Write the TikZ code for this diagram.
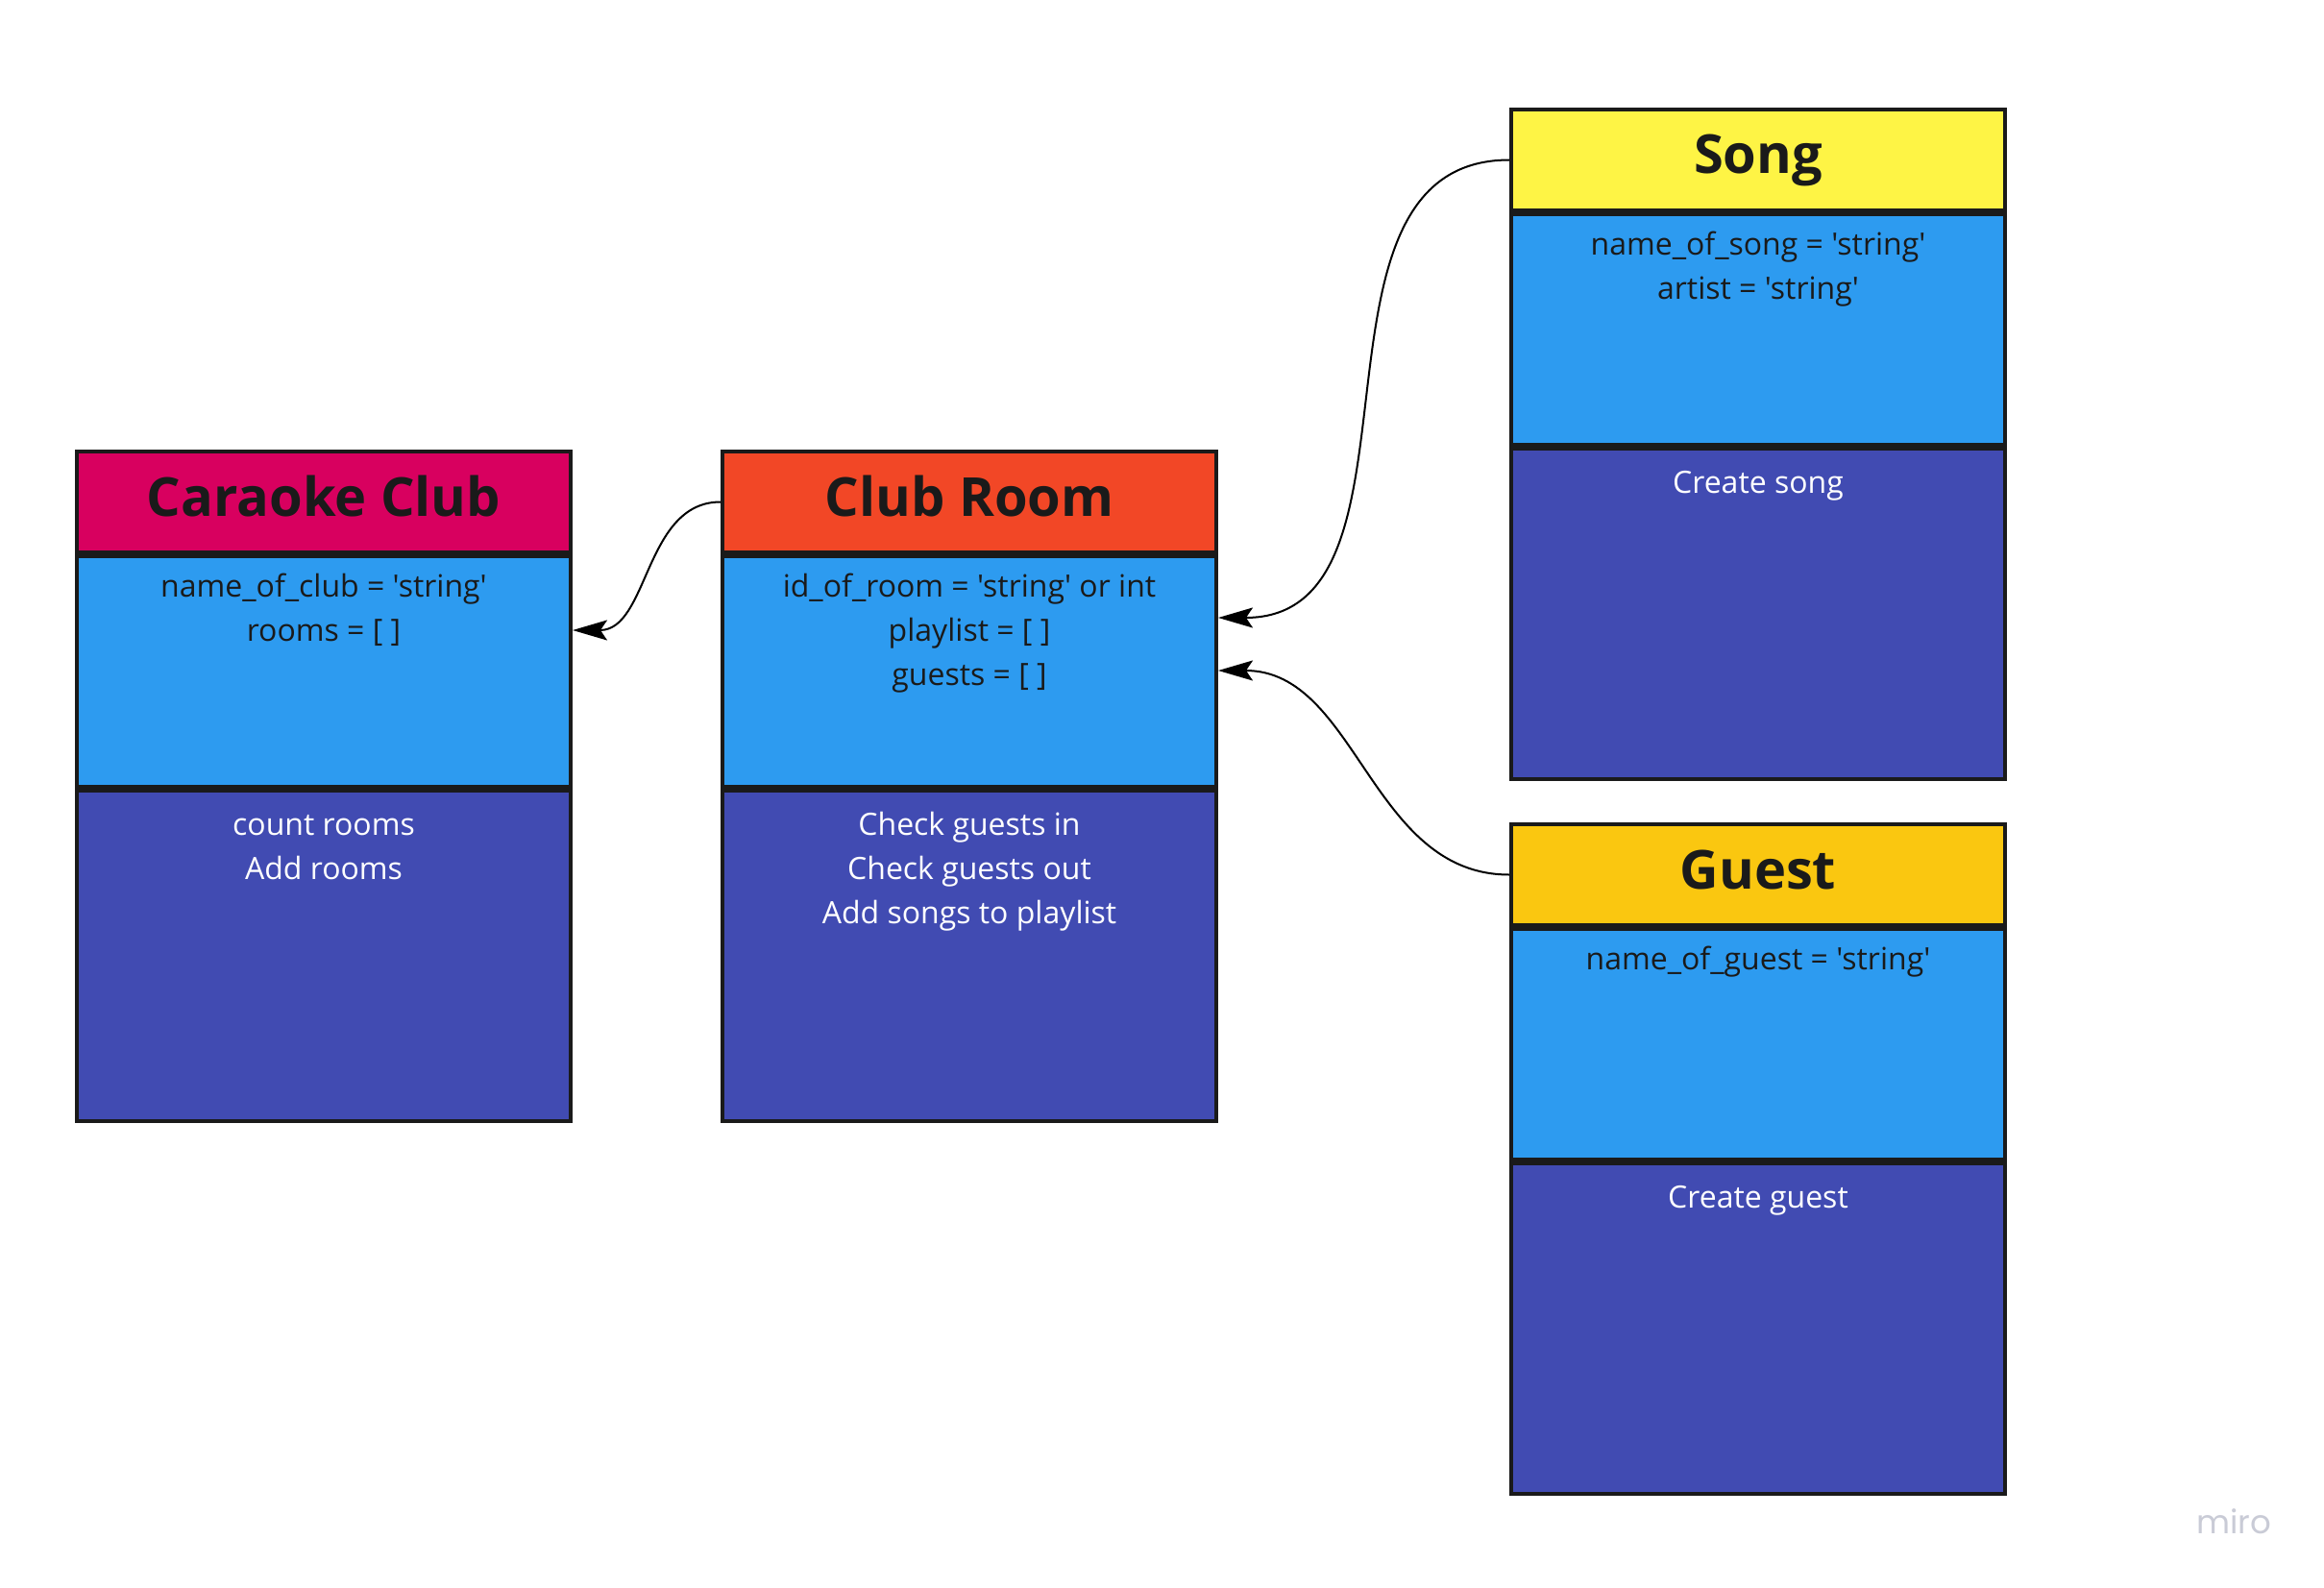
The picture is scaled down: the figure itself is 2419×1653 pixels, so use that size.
\documentclass[tikz,border=0pt]{standalone}
\usepackage{fontspec}
\newfontfamily\osans{Open Sans}
\newfontfamily\popp{Poppins}
\usetikzlibrary{arrows.meta}
\definecolor{edge}{HTML}{1A1A1A}
\definecolor{magentahead}{HTML}{D8005F}
\definecolor{redhead}{HTML}{F24726}
\definecolor{yellowhead}{HTML}{FEF445}
\definecolor{goldhead}{HTML}{FAC710}
\definecolor{attrblue}{HTML}{2D9BF0}
\definecolor{methpurple}{HTML}{414BB2}
\definecolor{wmark}{HTML}{C9CBD6}
\newcommand\umlbox[4]{%
  \node[sect, minimum height=52.5pt, fill=#4] (#1-h) at (#2,#3+52.5) {};
  \node[sect, minimum height=120pt, fill=attrblue] (#1-a) at (#2,#3+229) {};
  \node[sect, minimum height=172pt, fill=methpurple] (#1-m) at (#2,#3+525) {};
}
\begin{document}
\begin{tikzpicture}[x=0.5pt,y=-0.5pt,
  sect/.style={draw=edge, line width=2pt, minimum width=257pt, inner sep=0pt, shape=rectangle},
  ttl/.style={font=\osans\bfseries\fontsize{28}{34}\selectfont, text=edge, anchor=base, inner sep=0pt},
  attr/.style={font=\osans\fontsize{16}{23}\selectfont, text=edge, anchor=base, inner sep=0pt},
  meth/.style={font=\osans\fontsize{16}{23}\selectfont, text=white, anchor=base, inner sep=0pt},
  conn/.style={draw=black, line width=1pt, -{Stealth[length=18pt,width=10.5pt,inset=3.5pt]}},
  wm/.style={font=\popp\fontsize{17}{20}\selectfont, text=wmark, anchor=base, inner sep=0pt}]
\useasboundingbox (0,0) rectangle (2419,1653);
\fill[white] (0,0) rectangle (2419,1653);

\umlbox{cc}{337}{470}{magentahead}
\umlbox{cr}{1009}{470}{redhead}
\umlbox{sg}{1830}{114}{yellowhead}
\umlbox{gu}{1830}{858}{goldhead}

% Caraoke Club
\node[ttl] (cc-t) at (337,537) {Caraoke Club};
\node[attr] (cc-a1) at (337,621) {name\_of\_club = 'string'};
\node[attr] (cc-a2) at (337,667) {rooms = [ ]};
\node[meth] (cc-m1) at (337,869) {count rooms};
\node[meth] (cc-m2) at (337,915) {Add rooms};

% Club Room
\node[ttl] (cr-t) at (1009,537) {Club Room};
\node[attr] (cr-a1) at (1009,621) {id\_of\_room = 'string' or int};
\node[attr] (cr-a2) at (1009,667) {playlist = [ ]};
\node[attr] (cr-a3) at (1009,713) {guests = [ ]};
\node[meth] (cr-m1) at (1009,869) {Check guests in};
\node[meth] (cr-m2) at (1009,915) {Check guests out};
\node[meth] (cr-m3) at (1009,961) {Add songs to playlist};

% Song
\node[ttl] (sg-t) at (1830,181) {Song};
\node[attr] (sg-a1) at (1830,265) {name\_of\_song = 'string'};
\node[attr] (sg-a2) at (1830,311) {artist = 'string'};
\node[meth] (sg-m1) at (1830,513) {Create song};

% Guest
\node[ttl] (gu-t) at (1830,925) {Guest};
\node[attr] (gu-a1) at (1830,1009) {name\_of\_guest = 'string'};
\node[meth] (gu-m1) at (1830,1257) {Create guest};

% connectors
\draw[conn] (cr-h.west) to[out=180,in=0] ([yshift=-39.5pt]cc-a.north east);
\draw[conn] (sg-h.west) to[out=180,in=0,looseness=1.05] ([yshift=-33pt]cr-a.north east);
\draw[conn] (gu-h.west) to[out=180,in=0] ([yshift=-60.5pt]cr-a.north east);

% watermark
\node[wm] (wmark) at (2325,1596) {miro};
\end{tikzpicture}
\end{document}
